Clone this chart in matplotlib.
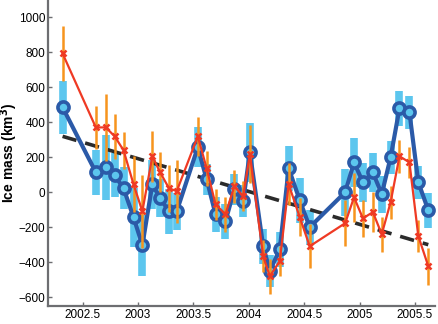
import numpy as np
import matplotlib
matplotlib.use("Agg")
import matplotlib.pyplot as plt

plt.rcParams['font.family'] = ['Liberation Sans', 'DejaVu Sans']

# sample epochs (decimal year)
t = [2002.32, 2002.62, 2002.71, 2002.79, 2002.87, 2002.96, 2003.04,
     2003.13, 2003.20, 2003.28, 2003.35,
     2003.54, 2003.62, 2003.70, 2003.79, 2003.87, 2003.95,
     2004.01, 2004.13, 2004.19, 2004.28, 2004.36, 2004.46, 2004.55,
     2004.87, 2004.95, 2005.03, 2005.12, 2005.20, 2005.28, 2005.36,
     2005.45, 2005.53, 2005.62]

# blue series (circles) and its uncertainty
mass_a = [486, 114, 143, 97, 23, -143, -303,
          46, -34, -109, -109,
          257, 74, -126, -166, 17, -51,
          229, -309, -451, -326, 137, -46, -200,
          0, 171, 57, 114, -11, 200, 480,
          457, 57, -103]
err_a = [150, 130, 185, 125, 120, 170, 175,
         140, 110, 130, 105,
         115, 90, 100, 100, 90, 90,
         170, 100, 90, 100, 130, 130, 100,
         135, 140, 110, 110, 105, 95, 100,
         95, 95, 100]

# red series (crosses) and its uncertainty
mass_b = [794, 371, 371, 320, 240, 46, -109,
          206, 114, 23, 6,
          320, 137, -69, -126, 34, -23,
          217, -366, -480, -394, 46, -143, -309,
          -177, -29, -149, -114, -240, -57, 206,
          171, -251, -423]
err_b = [155, 125, 190, 130, 105, 160, 210,
         145, 115, 135, 180,
         110, 100, 90, 100, 95, 85,
         165, 90, 100, 85, 120, 110, 125,
         130, 140, 105, 115, 100, 95, 95,
         90, 90, 105]

# linear trend end points
trend_t = [2002.32, 2005.62]
trend_v = [320, -300]

blue = '#2b5aa8'
light = '#5cc6ee'
red = '#ef3a24'
orange = '#f7941d'

fig = plt.figure(figsize=(4.38, 3.24), dpi=100)
ax = fig.add_axes([0.11, 0.056, 0.883, 0.944])

ax.errorbar(t, mass_a, yerr=err_a, fmt='none', ecolor=light, elinewidth=5.5,
            capsize=0, zorder=1)
ax.plot(trend_t, trend_v, color='#2b2b2b', lw=2.6, dashes=(4, 2.5), zorder=2)
ax.plot(t, mass_a, color=blue, lw=3, marker='o', ms=8, mew=2.6,
        mec=blue, mfc=light, zorder=3)
ax.errorbar(t, mass_b, yerr=err_b, fmt='none', ecolor=orange, elinewidth=1.8,
            capsize=0, zorder=4)
ax.plot(t, mass_b, color=red, lw=1.6, marker='x', ms=4.5, mew=1.8, zorder=5)

ax.set_xlim(2002.19, 2005.68)
ax.set_ylim(-650, 1100)
ax.set_xticks([2002.5, 2003, 2003.5, 2004, 2004.5, 2005, 2005.5])
ax.set_xticklabels(['2002.5', '2003', '2003.5', '2004', '2004.5', '2005', '2005.5'])
ax.set_yticks(range(-600, 1001, 200))
ax.set_yticklabels([str(v).replace('-', '\u2212') for v in range(-600, 1001, 200)])

for s in ['top', 'right']:
    ax.spines[s].set_visible(False)
for s in ['left', 'bottom']:
    ax.spines[s].set_color('#6d6e71')
    ax.spines[s].set_linewidth(1.6)
ax.tick_params(direction='in', length=3, width=1, color='#6d6e71',
               labelsize=8.5, pad=2)
ax.set_ylabel('Ice mass (km$^\\mathbf{3}$)', fontsize=10, fontweight='bold')
ax.yaxis.set_label_coords(-0.072, 0.5)

fig.savefig('out.png', dpi=100)
